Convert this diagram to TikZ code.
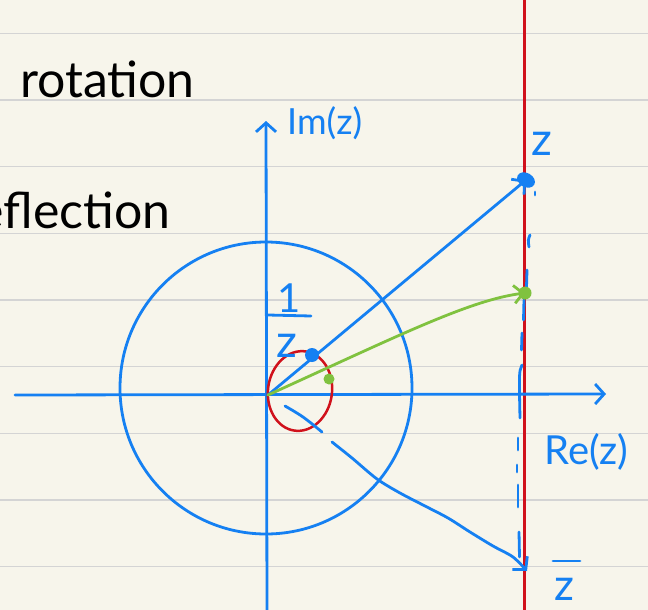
\documentclass[tikz,border=0pt]{standalone}
\usepackage{fontspec}
\setmainfont{Lato}
\usetikzlibrary{arrows.meta}
\definecolor{paper}{HTML}{F7F5EB}
\definecolor{rule}{HTML}{D4D4D4}
\definecolor{pen}{HTML}{1580F2}
\definecolor{redpen}{HTML}{D0111B}
\definecolor{greenpen}{HTML}{80C23F}
\tikzset{
  bluepen/.style={draw=pen, line width=2.8pt, line cap=round, line join=round},
  handtext/.style={inner sep=0pt, anchor=base west},
  barb/.style={-{Straight Barb[length=9pt,width=20pt,line width=2.8pt]}},
}
\begin{document}
\begin{tikzpicture}[x=1pt,y=-1pt]
\useasboundingbox (0,0) rectangle (648,610);
\clip (0,0) rectangle (648,610);
\fill[paper] (0,0) rectangle (648,610);
% ruled lines
\foreach \k in {0,...,8}{
  \draw[rule, line width=1.5pt] (0,33.3+66.67*\k) -- (648,33.3+66.67*\k);
}
% red vertical line
\draw[redpen, line width=2.6pt] (524.5,0) -- (524.5,610);
% handwritten titles
\node[handtext, font=\fontsize{50}{56}\selectfont] (rot) at (20,97) {rotation};
\node[handtext, font=\fontsize{50}{56}\selectfont] (refl) at (-40,228) {reflection};
% coordinates
\coordinate (O) at (268,395);
\coordinate (xl) at (15,395);
\coordinate (xr) at (606,394);
\coordinate (yb) at (267,612);
\coordinate (yt) at (266,121);
\coordinate (Z) at (526,180);
\coordinate (G) at (525,293);
% axes
\draw[bluepen, barb] (xl) -- (xr);
\draw[bluepen, barb] (yb) -- (yt);
% unit circle
\draw[bluepen] (266,388) circle[radius=146];
% red ellipse
\draw[redpen, line width=2.5pt, rotate around={-8:(300,391)}] (300,391) ellipse[x radius=32, y radius=40];
% dashed reflection line
\draw[bluepen] (535,192) -- (535,195);
\draw[bluepen] (530,235) .. controls (528,240) .. (529,247);
\draw[bluepen] (527,270) -- (526.5,287);
\draw[bluepen] (524,300) -- (523.5,320);
\draw[bluepen] (522,333) -- (521.5,350);
\draw[bluepen] (522,365) .. controls (519,372) .. (520,418);
\draw[bluepen] (518,438) -- (518,450);
\draw[bluepen] (517,465) -- (517,472);
\draw[bluepen] (518,485) -- (518,507);
\draw[bluepen] (519,532) -- (519.5,557);
% vectors
\draw[bluepen, barb] (O) -- (Z);
\draw[greenpen, line width=2.8pt, line cap=round, -{Straight Barb[length=9pt,width=18pt,line width=2.8pt]}] (O) .. controls (400,335) and (470,300) .. (G);
% dots
\fill[pen, rotate around={-30:(Z)}] (Z) ellipse[x radius=9.5, y radius=7];
\fill[greenpen] (G) circle[radius=6.5];
\fill[pen] (312,355) circle[radius=7];
\fill[greenpen] (329,379) circle[radius=5.5];
% wavy arrow to conjugate
\draw[bluepen] plot[smooth, tension=0.6] coordinates {(285,406) (303,417) (322,432)};
\draw[bluepen, barb] plot[smooth, tension=0.5] coordinates {(332,442) (352,458) (377,479) (400,493) (425,506) (448,518) (470,532) (493,546) (513,557) (527,571)};
% labels
\node[handtext, text=pen, font=\fontsize{36}{40}\selectfont] (imlabel) at (287,134) {Im(z)};
\node[handtext, text=pen, font=\fontsize{40}{44}\selectfont] (relabel) at (544,464) {Re(z)};
\node[handtext, text=pen, font=\fontsize{46}{50}\selectfont] (zlabel) at (531,155) {z};
\node[handtext, text=pen, font=\fontsize{44}{48}\selectfont] (zbar) at (554,600) {z};
\draw[pen, line width=2.8pt, line cap=round] (553,561) -- (580,561);
\node[handtext, text=pen, font=\fontsize{40}{44}\selectfont] (one) at (277,312) {1};
\draw[pen, line width=2.8pt, line cap=round] (268,315) -- (311,316);
\node[handtext, text=pen, font=\fontsize{46}{50}\selectfont] (zinv) at (276,357) {z};
\end{tikzpicture}
\end{document}
